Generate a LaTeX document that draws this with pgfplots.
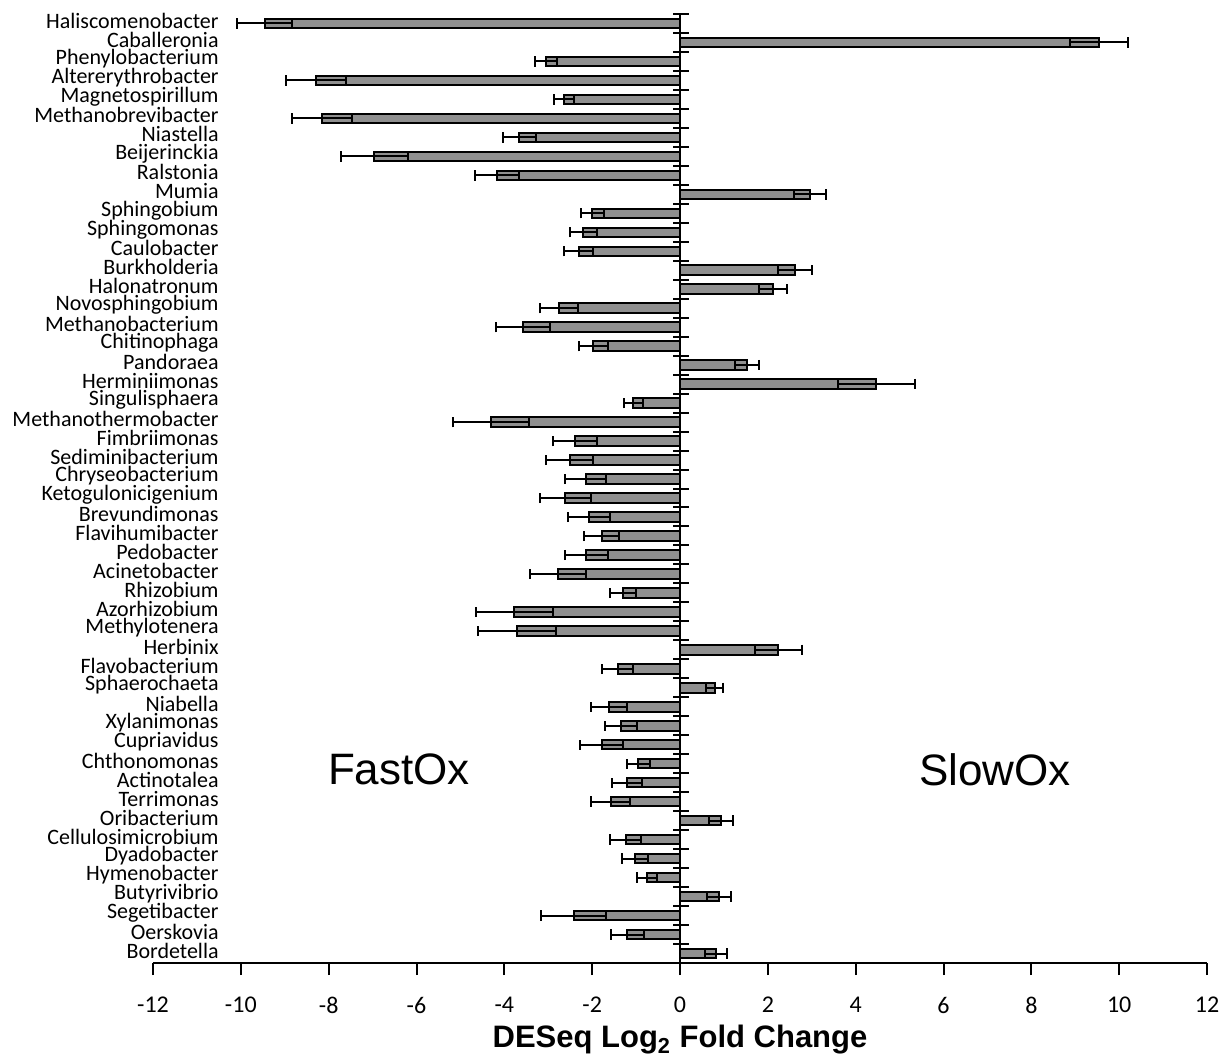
\documentclass[border=0pt]{standalone}
\usepackage{pgfplots}
\pgfplotsset{compat=1.18}
\usepackage{pgfplotstable}
\usepackage{fontspec}
\setmainfont{Carlito}
\newfontfamily\arialfont{Liberation Sans}
\definecolor{barfill}{RGB}{143,143,143}

\pgfplotstableread{
y name x e
1 Haliscomenobacter -9.46 0.62
2 Caballeronia 9.54 0.66
3 Phenylobacterium -3.06 0.25
4 Altererythrobacter -8.29 0.69
5 Magnetospirillum -2.64 0.23
6 Methanobrevibacter -8.15 0.69
7 Niastella -3.66 0.38
8 Beijerinckia -6.96 0.77
9 Ralstonia -4.17 0.50
10 Mumia 2.96 0.37
11 Sphingobium -2.00 0.26
12 Sphingomonas -2.20 0.30
13 Caulobacter -2.31 0.34
14 Burkholderia 2.62 0.39
15 Halonatronum 2.12 0.32
16 Novosphingobium -2.75 0.43
17 Methanobacterium -3.57 0.61
18 Chitinophaga -1.97 0.34
19 Pandoraea 1.53 0.28
20 Herminiimonas 4.47 0.87
21 Singulisphaera -1.06 0.21
22 Methanothermobacter -4.30 0.86
23 Fimbriimonas -2.39 0.50
24 Sediminibacterium -2.51 0.53
25 Chryseobacterium -2.15 0.47
26 Ketogulonicigenium -2.61 0.58
27 Brevundimonas -2.08 0.48
28 Flavihumibacter -1.78 0.40
29 Pedobacter -2.14 0.49
30 Acinetobacter -2.78 0.64
31 Rhizobium -1.30 0.30
32 Azorhizobium -3.77 0.88
33 Methylotenera -3.71 0.88
34 Herbinix 2.24 0.53
35 Flavobacterium -1.42 0.36
36 Sphaerochaeta 0.79 0.19
37 Niabella -1.62 0.41
38 Xylanimonas -1.34 0.36
39 Cupriavidus -1.78 0.49
40 Chthonomonas -0.95 0.26
41 Actinotalea -1.20 0.34
42 Terrimonas -1.58 0.44
43 Oribacterium 0.93 0.27
44 Cellulosimicrobium -1.24 0.36
45 Dyadobacter -1.03 0.30
46 Hymenobacter -0.76 0.23
47 Butyrivibrio 0.88 0.27
48 Segetibacter -2.42 0.74
49 Oerskovia -1.20 0.37
50 Bordetella 0.81 0.25
}\data

\begin{document}
\begin{tikzpicture}
\begin{axis}[
  scale only axis, width=527pt, height=474.5pt,
  xmin=-12, xmax=12, ymin=0.5, ymax=50.5, y dir=reverse,
  axis x line*=bottom, axis y line*=left,
  y axis line style={draw=none},
  x axis line style={line width=1pt, black},
  xtick={-12,-10,...,12},
  xticklabels={-12,-10,-8,-6,-4,-2,0,2,4,6,8,10,12},
  tick align=outside, major tick length=6pt,
  xtick style={line width=1pt, black},
  ytick={1,...,50},
  yticklabels from table={\data}{name},
  ytick style={draw=none},
  yticklabel style={font=\fontsize{11}{11}\selectfont, anchor=east, inner sep=0pt, xshift=39pt, yshift=1.5pt},
  xticklabel style={font=\fontsize{12}{12}\selectfont, yshift=-7.5pt},
  clip=false,
]
\addplot[xbar, bar width=0.5, fill=barfill, draw=black, line width=1pt,
  error bars/.cd, x dir=both, x explicit,
  error bar style={line width=1pt, black},
  error mark options={line width=1pt, mark size=2.6pt, black, rotate=90}]
  table[x=x, y=y, x error=e]{\data};
\draw[line width=1pt, black] (axis cs:0,0.5) -- (axis cs:0,50.5);
\pgfplotsinvokeforeach{0.5,1.5,...,50.5}{
  \draw[line width=1pt, black] (axis cs:-0.15,#1) -- (axis cs:0.2,#1);
}
\node[font=\arialfont\fontsize{22}{22}\selectfont] at (axis cs:-6.4,40.3) {FastOx};
\node[font=\arialfont\fontsize{22}{22}\selectfont] at (axis cs:7.17,40.3) {SlowOx};
\node[font=\arialfont\bfseries\fontsize{15.5}{15.5}\selectfont] at (axis description cs:0.5,0) [yshift=-38.5pt] {DESeq Log\textsubscript{2} Fold Change};
\coordinate (bl) at (axis description cs:0,0);
\coordinate (tr) at (axis description cs:1,1);
\end{axis}
\pgfresetboundingbox
\path ([shift={(-76.5pt,-48pt)}]bl) rectangle ([shift={(9pt,7pt)}]tr);
\end{tikzpicture}
\end{document}
